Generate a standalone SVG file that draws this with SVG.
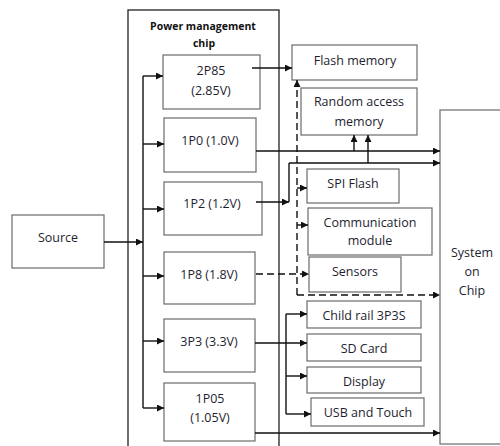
<svg xmlns="http://www.w3.org/2000/svg" width="500" height="446" viewBox="0 0 500 446">
  <defs>
    <marker id="arrow" viewBox="0 0 10 10" refX="10" refY="5" markerWidth="8" markerHeight="7" markerUnits="userSpaceOnUse" orient="auto">
      <path d="M0,0 L10,5 L0,10 z" fill="#111"/>
    </marker>
    <style>
      .box { fill: #fff; stroke: #6b6b6b; stroke-width: 1.2; }
      .outer { fill: #fff; stroke: #222; stroke-width: 1.3; }
      .t { font-family: "Open Sans", "Liberation Sans", sans-serif; font-size: 12.5px; fill: #1e1e30; text-anchor: middle; dominant-baseline: central; }
      .title { font-family: "Open Sans", "Liberation Sans", sans-serif; font-size: 10.5px; font-weight: bold; fill: #111; text-anchor: middle; dominant-baseline: central; }
      .w { fill: none; stroke: #111; stroke-width: 1.4; }
      .wa { fill: none; stroke: #111; stroke-width: 1.4; marker-end: url(#arrow); }
      .d { fill: none; stroke: #111; stroke-width: 1.4; stroke-dasharray: 7 4; }
      .da { fill: none; stroke: #111; stroke-width: 1.4; stroke-dasharray: 7 4; marker-end: url(#arrow); }
    </style>
  </defs>

  <rect width="500" height="446" fill="#fff"/>

  <!-- Power management chip outline -->
  <g id="pmc">
    <rect class="outer" x="128" y="10" width="151" height="450"/>
    <text class="title" x="203" y="26">Power management</text>
    <text class="title" x="204" y="43">chip</text>
  </g>

  <!-- Regulators -->
  <g id="r2p85">
    <rect class="box" x="163" y="55" width="97" height="54"/>
    <text class="t" x="211" y="70">2P85</text>
    <text class="t" x="211" y="90">(2.85V)</text>
  </g>
  <g id="r1p0">
    <rect class="box" x="164" y="118" width="92" height="54"/>
    <text class="t" x="210" y="140">1P0 (1.0V)</text>
  </g>
  <g id="r1p2">
    <rect class="box" x="164" y="182" width="98" height="53"/>
    <text class="t" x="212" y="203">1P2 (1.2V)</text>
  </g>
  <g id="r1p8">
    <rect class="box" x="164" y="252" width="91" height="52"/>
    <text class="t" x="209" y="274">1P8 (1.8V)</text>
  </g>
  <g id="r3p3">
    <rect class="box" x="164" y="319" width="91" height="53"/>
    <text class="t" x="209" y="341">3P3 (3.3V)</text>
  </g>
  <g id="r1p05">
    <rect class="box" x="164" y="383" width="91" height="58"/>
    <text class="t" x="210" y="398">1P05</text>
    <text class="t" x="210" y="417">(1.05V)</text>
  </g>

  <!-- Source -->
  <g id="source">
    <rect class="box" x="12" y="215" width="92" height="53"/>
    <text class="t" x="58" y="237">Source</text>
  </g>

  <!-- Loads -->
  <g id="flash">
    <rect class="box" x="292" y="45" width="125" height="35"/>
    <text class="t" x="355" y="60">Flash memory</text>
  </g>
  <g id="ram">
    <rect class="box" x="301" y="88" width="116" height="47"/>
    <text class="t" x="359" y="101">Random access</text>
    <text class="t" x="359" y="121">memory</text>
  </g>
  <g id="spi">
    <rect class="box" x="307" y="169" width="92" height="34"/>
    <text class="t" x="353" y="183">SPI Flash</text>
  </g>
  <g id="comm">
    <rect class="box" x="308" y="208" width="124" height="47"/>
    <text class="t" x="370" y="222">Communication</text>
    <text class="t" x="370" y="240">module</text>
  </g>
  <g id="sensors">
    <rect class="box" x="309" y="257" width="92" height="35"/>
    <text class="t" x="355" y="271">Sensors</text>
  </g>
  <g id="child">
    <rect class="box" x="307" y="301" width="114" height="27"/>
    <text class="t" x="364" y="315">Child rail 3P3S</text>
  </g>
  <g id="sd">
    <rect class="box" x="307" y="334" width="114" height="27"/>
    <text class="t" x="364" y="348">SD Card</text>
  </g>
  <g id="display">
    <rect class="box" x="307" y="367" width="114" height="26"/>
    <text class="t" x="364" y="381">Display</text>
  </g>
  <g id="usb">
    <rect class="box" x="311" y="398" width="113" height="28"/>
    <text class="t" x="368" y="412">USB and Touch</text>
  </g>
  <g id="soc">
    <rect class="box" x="440" y="110" width="70" height="334"/>
    <text class="t" x="472" y="252">System</text>
    <text class="t" x="472" y="271">on</text>
    <text class="t" x="472" y="290">Chip</text>
  </g>

  <!-- Connectors -->
  <g id="connectors">
    <!-- source feed and internal bus -->
    <path class="wa" d="M104,242 H143"/>
    <path class="w" d="M143,76 V408"/>
    <path class="wa" d="M143,76 H163"/>
    <path class="wa" d="M143,144 H164"/>
    <path class="wa" d="M143,209 H164"/>
    <path class="wa" d="M143,276 H164"/>
    <path class="wa" d="M143,341 H164"/>
    <path class="wa" d="M143,408 H164"/>

    <!-- 2P85 to flash -->
    <path class="wa" d="M252,68 H292"/>

    <!-- 1P0 to SoC and RAM -->
    <path class="wa" d="M256,151 H440"/>
    <path class="wa" d="M354,151 V135"/>

    <!-- 1P2 to SoC and RAM -->
    <path class="wa" d="M256,202 H289"/>
    <path class="w" d="M289,202 V163"/>
    <path class="wa" d="M289,163 H440"/>
    <path class="wa" d="M368,163 V135"/>

    <!-- 1P8 dashed distribution -->
    <path class="da" d="M256,274 H309"/>
    <path class="da" d="M297,295 V80"/>
    <path class="wa" d="M297,188 H307"/>
    <path class="wa" d="M297,225 H308"/>
    <path class="da" d="M297,295 H440"/>

    <!-- 3P3 distribution -->
    <path class="wa" d="M255,343 H307"/>
    <path class="w" d="M286,314 V414"/>
    <path class="wa" d="M286,314 H307"/>
    <path class="wa" d="M286,376 H307"/>
    <path class="wa" d="M286,414 H311"/>

    <!-- 1P05 to SoC -->
    <path class="wa" d="M255,433 H440"/>
  </g>
</svg>
